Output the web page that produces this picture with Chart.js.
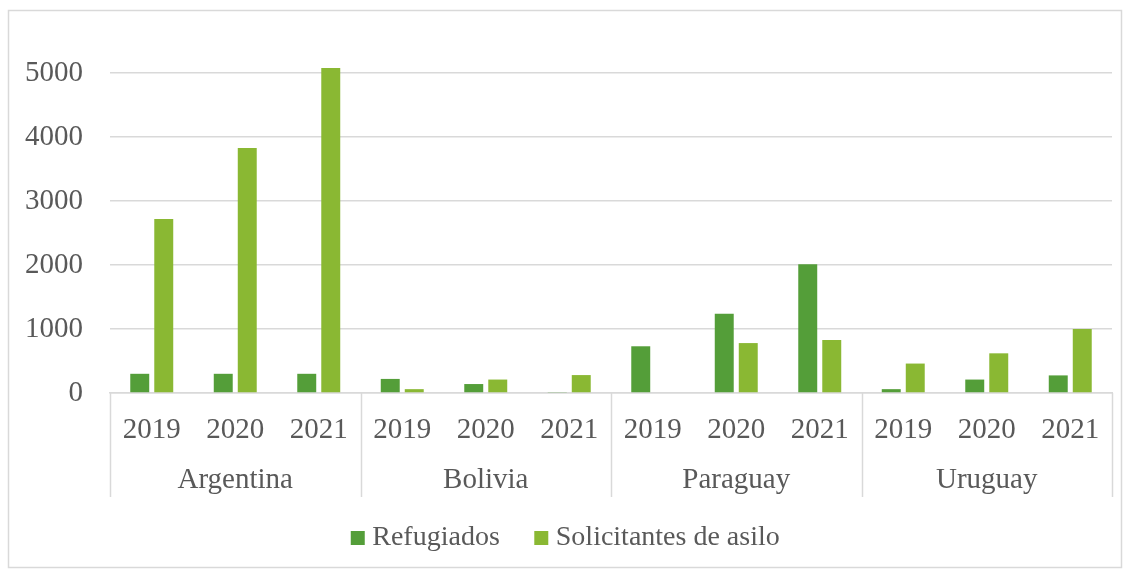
<!DOCTYPE html>
<html>
<head>
<meta charset="utf-8">
<script src="https://cdn.jsdelivr.net/npm/chart.js@4"></script>
<style>
  body { margin: 0; background: #ffffff; }
  #wrap { width: 1130px; height: 570px; }
</style>
</head>
<body>
<div id="wrap"><canvas id="chart"></canvas></div>
<script>
const years =
  ['2019', '2020', '2021', '2019', '2020', '2021', '2019', '2020', '2021', '2019', '2020', '2021'];

const countries =
  ['Argentina', 'Bolivia', 'Paraguay', 'Uruguay'];

const refugiados =
  [300, 300, 300, 220, 140, 15, 730, 1240, 2010, 60, 210, 275];

const solicitantes =
  [2720, 3830, 5080, 60, 210, 280, 0, 780, 830, 460, 620, 1000];

const yTicks =
  [0, 1000, 2000, 3000, 4000, 5000];

const textColor = '#595959';
const lineColor = '#d9d9d9';
const serif = "'Liberation Serif', 'Times New Roman', serif";

// FRAME, COUNTRY ROW AND GROUP SEPARATORS

const groupPlugin = {
  id: 'groups',
  beforeDraw(chart) {
    const ctx = chart.ctx;
    ctx.save();
    ctx.strokeStyle = lineColor;
    ctx.lineWidth = 1.5;
    ctx.strokeRect(8.5, 10.5, 1113, 557);
    ctx.restore();
  },
  afterDraw(chart) {
    const ctx = chart.ctx;
    const x = chart.scales.x;
    const top = chart.chartArea.bottom;
    const per = years.length / countries.length;

    const edges = [];
    for (let g = 0; g <= countries.length; g++) {
      if (g === 0) {
        edges.push(x.left);
      } else if (g === countries.length) {
        edges.push(x.right);
      } else {
        edges.push(
          (x.getPixelForTick(g * per - 1) + x.getPixelForTick(g * per)) / 2
        );
      }
    }

    ctx.save();
    ctx.strokeStyle = lineColor;
    ctx.lineWidth = 1.5;
    edges.forEach(px => {
      ctx.beginPath();
      ctx.moveTo(Math.round(px) + 0.5, top);
      ctx.lineTo(Math.round(px) + 0.5, top + 104);
      ctx.stroke();
    });

    ctx.fillStyle = textColor;
    ctx.font = '29px ' + serif;
    ctx.textAlign = 'center';
    ctx.textBaseline = 'middle';
    countries.forEach((name, g) => {
      ctx.fillText(name, (edges[g] + edges[g + 1]) / 2, top + 87);
    });
    ctx.restore();
  },
};

new Chart(
  document.getElementById('chart'),
  {
    type: 'bar',
    data: {
      labels: years,
      datasets: [
        {
          label: 'Refugiados',
          data: refugiados,
          backgroundColor: '#549e39',
          categoryPercentage: 0.575,
          barPercentage: 0.79,
          clip: false,
        },
        {
          label: 'Solicitantes de asilo',
          data: solicitantes,
          backgroundColor: '#8ab833',
          categoryPercentage: 0.575,
          barPercentage: 0.79,
          clip: false,
        },
      ],
    },
    options: {
      responsive: true,
      maintainAspectRatio: false,
      animation: false,
      layout: {
        padding: { top: 73, left: 25, right: 18, bottom: 8 },
      },
      plugins: {
        tooltip: { enabled: false },
        legend: {
          position: 'bottom',
          labels: {
            color: textColor,
            font: { family: serif, size: 28 },
            usePointStyle: true,
            pointStyle: 'rect',
            boxWidth: 1,
            boxHeight: 14,
            padding: 41,
          },
        },
      },
      scales: {
        x: {
          grid: { display: false, drawTicks: false },
          border: { color: lineColor, width: 1.5 },
          ticks: {
            color: textColor,
            font: { family: serif, size: 29 },
            autoSkip: false,
            maxRotation: 0,
            padding: 20,
          },
          afterFit: scale => {
            scale.height = 90;
          },
        },
        y: {
          min: 0,
          max: 5000,
          afterBuildTicks: scale => {
            scale.ticks = yTicks.map(v => ({ value: v }));
          },
          grid: { color: lineColor, lineWidth: 1.5, drawTicks: false },
          border: { display: false },
          ticks: {
            color: textColor,
            font: { family: serif, size: 29 },
            padding: 27,
            callback: value => String(value),
          },
          afterFit: scale => {
            scale.width = 85;
          },
        },
      },
    },
    plugins: [groupPlugin],
  }
);
</script>
</body>
</html>
